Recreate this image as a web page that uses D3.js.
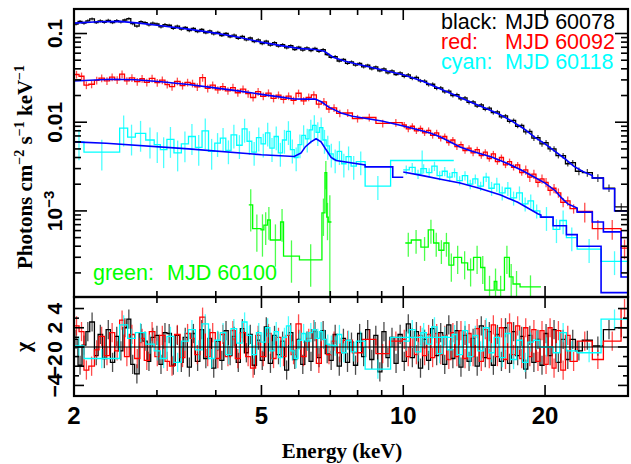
<!DOCTYPE html>
<html><head><meta charset="utf-8">
<script src="https://cdn.jsdelivr.net/npm/d3@7"></script>
<style>body{margin:0;background:#fff;}svg{display:block;}</style>
</head><body>
<svg id="c" width="631" height="464"></svg>
<script>
// ---------------- DATA ----------------
// black: MJD 60078
const blackEdges=[2.00,2.04,2.08,2.12,2.16,2.21,2.25,2.30,2.34,2.39,2.44,2.49,2.54,2.59,2.64,2.69,2.75,2.80,2.86,2.91,2.97,3.03,3.09,3.15,3.22,3.28,3.35,3.41,3.48,3.55,3.62,3.70,3.77,3.85,3.92,4.00,4.08,4.16,4.25,4.33,4.42,4.51,4.60,4.69,4.78,4.88,4.97,5.07,5.17,5.28,5.38,5.49,5.60,5.71,5.83,5.94,6.06,6.18,6.31,6.43,6.56,6.69,6.83,6.96,7.10,7.24,7.39,7.54,7.69,7.84,8.00,8.16,8.32,8.49,8.66,8.83,9.01,9.19,9.37,9.56,9.75,9.95,10.15,10.35,10.56,10.77,10.99,11.21,11.43,11.66,11.89,12.13,12.37,12.62,12.87,13.13,13.39,13.66,13.93,14.21,14.5,14.79,15.08,15.38,15.69,16.0,16.32,16.65,16.98,17.32,17.67,18.02,18.38,18.75,19.13,19.51,19.9,20.3,20.7,21.1,21.6,22.1,22.6,23.2,24.0,25.2,26.6,28.1,30.0];
const blackFlux=[.128,.137,.131,.139,.146,.133,.139,.134,.141,.133,.140,.135,.142,.147,.129,.121,.136,.133,.125,.131,.128,.119,.126,.124,.114,.121,.112,.117,.108,.114,.105,.111,.102,.107,.099,.103,.095,.100,.092,.096,.088,.093,.085,.089,.081,.085,.077,.082,.074,.079,.072,.075,.069,.073,.066,.070,.065,.069,.064,.068,.063,.066,.058,.054,.055,.049,.051,.046,.048,.044,.046,.042,.044,.040,.042,.038,.040,.036,.038,.0345,.0360,.0330,.0342,.0312,.0321,.0293,.0291,.0265,.0268,.0241,.0244,.0220,.0224,.0200,.0205,.0183,.0188,.0167,.0170,.0152,.0157,.0140,.0144,.0128,.0131,.0115,.0118,.0102,.0105,.0090,.0092,.0078,.0079,.0066,.0067,.0057,.0059,.0050,.0050,.0042,.0042,.0034,.0035,.0028,.0027,.00235,.00181,.00111];
const blackChi=[0.8,-1.9,0.2,1.6,2.6,-0.9,1.3,-1.2,1.8,-1.6,1.1,-0.4,2.0,2.9,-1.8,-2.8,1.4,0.6,-1.5,1.0,1.2,-1.8,1.5,1.4,-1.9,1.2,-1.6,1.0,-2.1,1.4,-1.5,1.8,-1.2,0.9,-2.2,0.6,-1.4,1.7,-0.9,1.1,-1.6,1.9,-0.6,1.3,-1.9,0.7,-1.4,2.1,-1.7,1.2,-0.8,0.6,-2.4,1.5,-1.3,0.8,-1.8,0.6,-1.5,1.6,-1.1,1.7,-0.7,-1.4,1.3,-2.0,0.9,-1.6,0.5,-1.9,1.4,-1.0,1.8,-1.3,1.2,-2.6,1.6,-1.1,1.0,-1.7,1.3,-1.5,2.4,-1.1,1.6,-2.2,0.8,-1.4,1.9,-0.9,1.5,-1.8,2.3,-1.2,1.7,-2.1,1.2,-1.5,0.9,-2.0,2.2,-1.1,1.6,-1.9,1.3,-1.5,2.0,-1.7,1.6,-0.9,1.1,-2.3,1.2,-1.6,0.8,-1.9,1.4,-0.9,1.8,-1.6,0.8,-1.3,0.8,-0.4,0.7,0.1,1.8,2.0];
const blackErr=[[10,.04],[18,.05],[23,.07],[31,.10]];
const blackModel=[[2,.131],[2.25,.136],[2.5,.137],[2.75,.131],[3,.124],[3.5,.112],[4,.101],[4.5,.090],[5,.080],[5.5,.073],[6,.068],[6.5,.066],[6.8,.063],[7.1,.054],[7.5,.049],[8,.045],[9,.039],[10,.0343],[11,.029],[12,.0237],[13,.0198],[14,.0166],[15,.0143],[16,.0123],[17,.0103],[18,.0085],[19,.0068],[20,.0057],[21,.0047],[22,.0039],[23,.0032],[24,.0028],[25.2,.0025],[25.2,.00235],[26.6,.00235],[26.6,.00178],[28.1,.00178],[28.1,.0010],[30,.0010]];

// red: MJD 60092
const redEdges=[2.00,2.05,2.10,2.15,2.21,2.26,2.32,2.38,2.44,2.50,2.56,2.62,2.69,2.76,2.82,2.89,2.97,3.04,3.12,3.19,3.27,3.36,3.44,3.53,3.61,3.70,3.80,3.89,3.99,4.09,4.19,4.30,4.40,4.51,4.63,4.74,4.86,4.98,5.11,5.24,5.37,5.50,5.64,5.78,5.92,6.07,6.22,6.38,6.54,6.70,6.87,7.04,7.22,7.45,7.8,8.2,8.75,9.35,9.95,10.15,10.35,10.56,10.77,10.99,11.21,11.43,11.66,11.89,12.13,12.37,12.62,12.87,13.13,13.39,13.66,13.93,14.21,14.5,14.79,15.08,15.38,15.69,16.0,16.32,16.65,16.98,17.32,17.67,18.02,18.38,18.75,19.13,19.51,19.9,20.3,20.7,21.1,21.6,22.1,22.6,23.4,25.2,26.6,29.0,30.0];
const redFlux=[.0345,.0330,.0262,.0268,.0296,.0314,.0292,.0322,.0300,.0348,.0293,.0316,.0287,.0309,.0281,.0312,.0279,.0298,.0266,.0252,.0289,.0259,.0281,.0274,.0250,.0318,.0241,.0262,.0232,.0252,.0226,.0246,.0215,.0236,.0210,.0190,.0221,.0196,.0213,.0186,.0202,.0181,.0197,.0176,.0212,.0174,.0191,.0203,.0160,.0170,.0141,.0145,.0126,.0127,.0110,.0113,.0097,.0099,.0093,.0084,.0090,.0080,.0085,.0076,.0081,.0071,.0076,.0066,.0069,.0059,.0063,.0053,.0056,.0048,.0051,.0045,.0049,.0042,.0046,.0039,.0044,.0036,.0040,.0033,.0036,.0031,.0033,.0027,.0029,.0024,.0026,.0021,.0023,.0021,.0017,.0018,.0016,.00125,.00130,.00106,.00099,.00063,.00063,.00038];
const redChi=[2.2,1.6,-2.4,-2.0,-0.3,1.1,-0.9,1.5,-0.4,2.8,-1.0,1.3,-1.2,0.9,-1.4,1.6,-1.0,1.2,-1.5,-2.0,1.3,-1.1,1.4,0.9,-0.8,3.1,-1.0,1.5,-1.2,1.3,-1.0,1.7,-1.2,1.5,-1.0,-2.2,1.2,-1.0,1.4,-1.2,1.0,-1.0,1.2,-0.8,2.4,-1.0,0.9,1.8,-1.7,0.8,-0.8,0.6,-0.6,0.7,-0.6,0.8,-0.7,0.6,0.8,-1.0,1.0,-0.8,1.2,-0.9,1.3,-1.1,1.4,-0.8,1.2,-1.3,1.5,-1.0,1.7,-1.2,1.4,-1.0,1.9,-1.5,1.8,-1.2,2.3,-1.0,2.0,-1.3,2.5,-0.8,2.2,-1.2,2.0,-1.0,1.8,-1.5,1.7,-1.8,2.0,-2.2,1.7,-2.4,1.2,-1.5,0.6,-1.3,0.6,4.0];
const redErr=[[10,.10],[18,.08],[23,.12],[31,.25]];
const redModel=[[2,.0291],[2.4,.0305],[2.7,.0301],[3.06,.0286],[3.5,.0266],[3.91,.0247],[4.5,.0224],[5,.0206],[5.5,.0192],[5.87,.0183],[6.2,.0182],[6.5,.0183],[6.7,.0170],[6.95,.0148],[7.38,.0127],[7.8,.0117],[9,.0103],[9.8,.0093],[10.5,.0085],[11.4,.00755],[12,.0068],[13.2,.00525],[14,.0047],[15.4,.00405],[16.5,.0035],[17.8,.00289],[19,.0024],[20,.00206],[21,.00170],[21.6,.00143],[22.35,.0012],[23.4,.00108],[23.4,.00097],[25.2,.00097],[25.2,.00075],[26.6,.00075],[26.6,.00058],[29,.00058],[29,.00018],[30,.00018]];

// cyan: MJD 60118 (two instruments)
const cyanAEdges=[2.0,2.1,2.5,2.6,2.7,2.84,2.96,3.05,3.15,3.26,3.38,3.5,3.62,3.74,3.86,3.98,4.09,4.2,4.31,4.43,4.55,4.66,4.77,4.88,4.99,5.1,5.21,5.32,5.43,5.54,5.65,5.76,5.87,5.98,6.09,6.2,6.31,6.42,6.53,6.64,6.75,6.86,6.97,7.1,7.24,7.4,7.56,7.75,7.95,8.3,9.4,12.8];
const cyanAFlux=[.0060,.0046,.0086,.0068,.0075,.0063,.0056,.0049,.0064,.0045,.0057,.0069,.0052,.0080,.0047,.0058,.0066,.0048,.0072,.0055,.0084,.0061,.0046,.0067,.0057,.0076,.0051,.0069,.0045,.0063,.0079,.0049,.0040,.0056,.0071,.0065,.0082,.0092,.0077,.0087,.0063,.0054,.0044,.0038,.0047,.0034,.0041,.0032,.0036,.0019,.0037];
const cyanAChi=[0.1,-1.2,2.3,0.9,1.5,0.3,-0.4,-1.2,1.1,-1.6,0.6,1.8,-0.3,2.4,-1.2,0.7,1.5,-0.8,1.9,0.4,2.6,1.2,-0.8,1.5,0.5,2.0,-0.4,1.6,-1.1,1.0,2.2,-0.4,-1.2,0.7,1.4,0.6,1.5,1.8,0.9,1.6,0.8,0.3,0.2,0.1,1.3,-0.6,0.7,-0.5,0.6,-2.3,1.0];
const cyanAErr=[[4,.38],[7.5,.30],[13,.30]];
const cyanAModel=[[2,.0060],[2.34,.0058],[3.5,.0050],[5.0,.0043],[5.87,.0041],[6.07,.0045],[6.2,.0053],[6.37,.0060],[6.53,.0065],[6.69,.0060],[6.86,.0049],[7.03,.0040],[7.2,.0037],[8.3,.0033],[8.3,.00314],[9.5,.00314],[9.5,.0024],[10,.0024]];
const cyanBEdges=[10.0,10.3,10.6,10.9,11.2,11.5,11.8,12.1,12.4,12.7,13.0,13.35,13.7,14.05,14.4,14.8,15.2,15.6,16.0,16.45,16.9,17.4,17.9,18.4,18.9,19.5,20.8,21.5,22.2,23.4,26.3,30.0];
const cyanBFlux=[.0029,.0031,.0026,.0030,.0027,.0032,.0025,.0028,.0024,.0027,.0022,.0025,.0020,.0023,.0019,.0024,.0018,.0020,.0016,.0018,.0014,.0016,.0012,.0013,.0010,.00085,.00062,.00078,.00050,.00037,.00027];
const cyanBChi=[0.6,1.8,-0.5,1.5,0.3,2.1,-0.7,1.1,-0.3,1.3,-0.8,1.7,-1.0,1.2,-0.4,2.0,-0.6,1.0,-1.1,1.4,-1.3,0.7,-1.6,0.5,0.7,0.0,-0.6,1.5,-0.4,-0.6,2.9];
const cyanBErr=[[15,.12],[20,.18],[31,.30]];
const cyanBModel=[[10,.00275],[11,.0025],[12,.00228],[13.2,.00206],[14.5,.0018],[16.1,.00151],[17.5,.00125],[19.3,.00093],[19.6,.00090],[19.6,.00085],[20.8,.00085],[20.8,.00068],[22.2,.00068],[22.2,.00054],[23.4,.00054],[23.4,.00040],[26.3,.00040],[26.3,.00012],[30,.00012]];

// green: MJD 60100
const greenAEdges=[4.70,4.79,4.99,5.06,5.15,5.22,5.49,5.57,6.02,6.72,6.82,6.88,6.93,7.04];
const greenAFlux=[.00117,.00063,.00061,.00069,.00079,.00047,.00075,.00031,.00028,.00095,.0027,.00085,.00075];
const greenAErr=[.5,.45,.5,.4,.4,.5,.4,.5,.5,.45,.35,.45,1.0];
const greenBEdges=[10.1,10.4,10.9,11.3,11.6,11.9,12.2,12.5,12.8,13.3,13.7,14.1,14.6,14.9,15.6,15.8,16.4,16.8,17.1,17.7,19.6];
const greenBFlux=[.000435,.00047,.00039,.00061,.000435,.00036,.000435,.000245,.0003,.00026,.000216,.0003,.00023,.000128,.00016,.000128,.0003,.00018,.00015,.000139];
const greenBErr=[.3,.3,.3,.3,.3,.3,.3,.35,.35,.35,.35,.35,.35,.45,.4,.45,.35,.4,.4,.35];

// axes
const xMajor=[2,5,10,20], xMinor=[3,4,6,7,8,9,30];
const xLabels=["2","5","10","20"];
const yMajor=[0.1,0.01,0.001];
const rMajor=[-4,-2,0,2,4], rMinor=[-3,-1,1,3];
const rLabels=["\u22124","\u22122","0","2","4"];
const legendRows=[{k:"black:",v:"MJD 60078",c:"#000000"},{k:"red:",v:"MJD 60092",c:"#ff0000"},{k:"cyan:",v:"MJD 60118",c:"#00ffff"}];
const greenLegend={k:"green:",v:"MJD 60100",c:"#00ff00"};

// ---------------- DRAWING ----------------
const L=74,R=628,T=9,MID=297,B=396;
const svg=d3.select("#c");
const x=d3.scaleLog().domain([2,30]).range([L,R]);
const y=d3.scaleLog().domain([1.07e-4,0.189]).range([MID,T]);
const yr=d3.scaleLinear().domain([-5.1,5.2]).range([B,MID]);
const BLUE="#0000ff";

const defs=svg.append("defs");
defs.append("clipPath").attr("id","cT").append("rect").attr("x",L).attr("y",T).attr("width",R-L).attr("height",MID-T);
defs.append("clipPath").attr("id","cR").append("rect").attr("x",L).attr("y",MID).attr("width",R-L).attr("height",B-MID);
const gT=svg.append("g").attr("clip-path","url(#cT)");
const gR=svg.append("g").attr("clip-path","url(#cR)");

function relAt(steps,E){for(const s of steps){if(E<s[0])return s[1];}return steps[steps.length-1][1];}
function stepPts(edges,vals){const p=[];vals.forEach((v,i)=>{p.push([edges[i],v],[edges[i+1],v]);});return p;}
function drawSeries(g,ys,edges,vals,errFn,col){
  g.append("path").attr("d",d3.line().x(d=>x(d[0])).y(d=>ys(d[1]))(stepPts(edges,vals)))
    .attr("fill","none").attr("stroke",col).attr("stroke-width",1.3);
  vals.forEach((v,i)=>{
    const c=Math.sqrt(edges[i]*edges[i+1]);
    const [a,b]=errFn(v,i,c);
    g.append("line").attr("x1",x(c)).attr("x2",x(c)).attr("y1",ys(a)).attr("y2",ys(b))
      .attr("stroke",col).attr("stroke-width",1.3).attr("stroke-opacity",0.7);
  });
}
const fluxErr=steps=>(v,i,c)=>{const e=relAt(steps,c);return [Math.max(v*(1-e),1e-6),v*(1+e)];};
const arrErr=arr=>(v,i)=>[Math.max(v*(1-arr[i]),1e-6),v*(1+arr[i])];
const chiErr=v=>[v-1,v+1];

drawSeries(gT,y,blackEdges,blackFlux,fluxErr(blackErr),"#000000");
drawSeries(gT,y,redEdges,redFlux,fluxErr(redErr),"#ff0000");
drawSeries(gT,y,greenAEdges,greenAFlux,arrErr(greenAErr),"#00ff00");
drawSeries(gT,y,greenBEdges,greenBFlux,arrErr(greenBErr),"#00ff00");
drawSeries(gT,y,cyanAEdges,cyanAFlux,fluxErr(cyanAErr),"#00ffff");
drawSeries(gT,y,cyanBEdges,cyanBFlux,fluxErr(cyanBErr),"#00ffff");
const mline=d3.line().x(d=>x(d[0])).y(d=>y(d[1]));
[blackModel,redModel,cyanAModel,cyanBModel].forEach(m=>{
  gT.append("path").attr("d",mline(m)).attr("fill","none").attr("stroke",BLUE).attr("stroke-width",1.6);
});

drawSeries(gR,yr,blackEdges,blackChi,chiErr,"#000000");
drawSeries(gR,yr,redEdges,redChi,chiErr,"#ff0000");
drawSeries(gR,yr,cyanAEdges,cyanAChi,chiErr,"#00ffff");
drawSeries(gR,yr,cyanBEdges,cyanBChi,chiErr,"#00ffff");
gR.append("line").attr("x1",L).attr("x2",R).attr("y1",yr(0)).attr("y2",yr(0)).attr("stroke","#000").attr("stroke-width",1.2);

// frames
const ax=svg.append("g").attr("stroke","#000").attr("fill","none");
ax.append("rect").attr("x",L).attr("y",T).attr("width",R-L).attr("height",MID-T).attr("stroke-width",2.2);
ax.append("rect").attr("x",L).attr("y",MID).attr("width",R-L).attr("height",B-MID).attr("stroke-width",2.2);

function tick(x1,y1,x2,y2){ax.append("line").attr("x1",x1).attr("y1",y1).attr("x2",x2).attr("y2",y2).attr("stroke-width",1.6);}
[[T,1],[MID,-1],[MID,1],[B,-1]].forEach(([yy,dir])=>{
  xMajor.forEach(v=>tick(x(v),yy,x(v),yy+dir*11));
  xMinor.forEach(v=>tick(x(v),yy,x(v),yy+dir*6));
});
const yMin=[];
for(let d=-4;d<0;d++){for(let k=1;k<=9;k++){const v=k*Math.pow(10,d);if(v>=1.07e-4&&v<=0.189)yMin.push(v);}}
yMin.forEach(v=>{
  const major=yMajor.some(m=>Math.abs(m-v)/m<1e-6);
  const len=major?13:7;
  tick(L,y(v),L+len,y(v));tick(R,y(v),R-len,y(v));
});
rMajor.forEach(v=>{tick(L,yr(v),L+10,yr(v));tick(R,yr(v),R-10,yr(v));});
rMinor.forEach(v=>{tick(L,yr(v),L+5,yr(v));tick(R,yr(v),R-5,yr(v));});

// labels
const sans="'Liberation Sans',Arial,Helvetica,sans-serif";
const serif="'Liberation Serif','Times New Roman',Times,serif";
xMajor.forEach((v,i)=>{
  svg.append("text").attr("x",x(v)).attr("y",424).attr("text-anchor","middle")
    .attr("font-family",sans).attr("font-weight","bold").attr("font-size",24).text(xLabels[i]);
});
function yLab(py,build){
  const t=svg.append("text").attr("transform",`translate(62,${py}) rotate(-90)`).attr("text-anchor","middle")
    .attr("font-family",sans).attr("font-weight","bold").attr("font-size",21);
  build(t);
}
yLab(y(0.1),t=>t.text("0.1"));
yLab(y(0.01),t=>t.text("0.01"));
yLab(y(0.001),t=>{t.append("tspan").text("10");t.append("tspan").attr("dy",-8).attr("font-size",15).text("\u22123");});
rMajor.forEach((v,i)=>yLab(yr(v),t=>t.text(rLabels[i])));

svg.append("text").attr("x",342).attr("y",458).attr("text-anchor","middle")
  .attr("font-family",serif).attr("font-weight","bold").attr("font-size",21).text("Energy (keV)");
const yt=svg.append("text").attr("transform","translate(32,167) rotate(-90)").attr("text-anchor","middle")
  .attr("font-family",serif).attr("font-weight","bold").attr("font-size",21);
yt.append("tspan").text("Photons cm");
yt.append("tspan").attr("dy",-8).attr("font-size",14).text("\u22122");
yt.append("tspan").attr("dy",8).text(" s");
yt.append("tspan").attr("dy",-8).attr("font-size",14).text("\u22121");
yt.append("tspan").attr("dy",8).text(" keV");
yt.append("tspan").attr("dy",-8).attr("font-size",14).text("\u22121");
svg.append("text").attr("transform","translate(30,347) rotate(-90)").attr("text-anchor","middle")
  .attr("font-family",serif).attr("font-weight","bold").attr("font-size",22).text("\u03c7");

legendRows.forEach((r,i)=>{
  const by=29+i*20;
  svg.append("text").attr("x",441).attr("y",by).attr("font-family",sans).attr("font-size",21.5).attr("fill",r.c).text(r.k);
  svg.append("text").attr("x",505).attr("y",by).attr("font-family",sans).attr("font-size",21.5).attr("fill",r.c).text(r.v);
});
svg.append("text").attr("x",93).attr("y",280).attr("font-family",sans).attr("font-size",21.5).attr("fill",greenLegend.c).text(greenLegend.k);
svg.append("text").attr("x",167).attr("y",280).attr("font-family",sans).attr("font-size",21.5).attr("fill",greenLegend.c).text(greenLegend.v);
</script>
</body></html>
